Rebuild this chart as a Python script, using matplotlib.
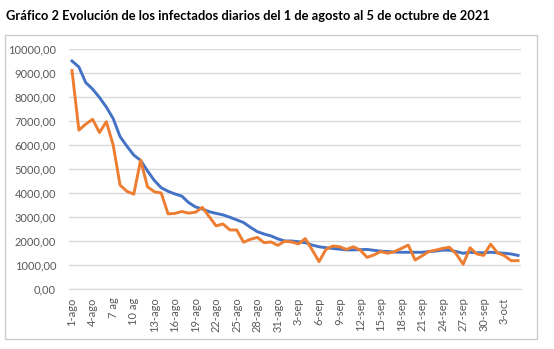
import matplotlib
matplotlib.use("Agg")
import matplotlib.pyplot as plt
from matplotlib.patches import Rectangle

# daily values, 1 Aug -> 5 Oct 2021 (66 days)
media_movil = [9500, 9250, 8600, 8330, 7980, 7580, 7100, 6350, 5950, 5580,
               5360, 4920, 4520, 4220, 4070, 3960, 3870, 3600, 3420, 3330,
               3220, 3150, 3090, 2990, 2880, 2770, 2570, 2390, 2290, 2210,
               2090, 2000, 2000, 1970, 1930, 1830, 1760, 1720, 1690, 1660,
               1630, 1630, 1640, 1650, 1610, 1580, 1560, 1540, 1530, 1530,
               1530, 1530, 1560, 1580, 1620, 1620, 1560, 1490, 1530, 1510,
               1510, 1530, 1510, 1490, 1460, 1400]
infectados = [9100, 6620, 6870, 7070, 6520, 6970, 6000, 4330, 4070, 3950,
              5370, 4260, 4050, 4000, 3130, 3150, 3230, 3160, 3200, 3400,
              3010, 2630, 2710, 2460, 2460, 1950, 2070, 2150, 1930, 1960,
              1820, 1990, 1960, 1880, 2100, 1630, 1140, 1650, 1790, 1760,
              1650, 1760, 1620, 1320, 1420, 1560, 1490, 1560, 1690, 1830,
              1210, 1380, 1560, 1620, 1690, 1740, 1460, 1030, 1720, 1460,
              1400, 1870, 1510, 1390, 1180, 1180]
tick_labels = ["1-ago", "4-ago", "7 ag", "10 ag", "13-ago", "16-ago", "19-ago",
               "22-ago", "25-ago", "28-ago", "31-ago", "3-sep", "6-sep", "9-sep",
               "12-sep", "15-sep", "18-sep", "21-sep", "24-sep", "27-sep",
               "30-sep", "3-oct"]
y_ticks = [0, 1000, 2000, 3000, 4000, 5000, 6000, 7000, 8000, 9000, 10000]

plt.rcParams['font.family'] = ['Lato', 'DejaVu Sans']

fig = plt.figure(figsize=(5.54, 3.49), dpi=100)
# light chart frame
frame = Rectangle((0.009, 0.029), 0.960, 0.871, transform=fig.transFigure,
                  fill=False, edgecolor='#cccccc', linewidth=1, zorder=0)
fig.add_artist(frame)
fig.text(0.011, 1 - 16 / 349, "Gráfico 2 Evolución de los infectados diarios del 1 de agosto al 5 de octubre de 2021",
         fontsize=9.3, fontweight='bold', va='center', ha='left', color='black')

ax = fig.add_axes([0.1238, 0.1719, 0.9413 - 0.1238, 0.8596 - 0.1719])
ax.patch.set_alpha(0)
x = list(range(len(media_movil)))
ax.plot(x, media_movil, color='#4472c4', linewidth=2.1, solid_joinstyle='round')
ax.plot(x, infectados, color='#ed7d31', linewidth=2.1, solid_joinstyle='round')

ax.set_xlim(-0.5, len(x) - 0.5)
ax.set_ylim(0, 10000)
ax.set_yticks(y_ticks)
ax.set_yticklabels(["%d,00" % v for v in y_ticks])
ax.set_xticks(list(range(0, len(x), 3)))
ax.set_xticklabels(tick_labels, rotation=90)
ax.grid(axis='y', color='#d9d9d9', linewidth=1)
ax.set_axisbelow(True)
for s in ['top', 'right', 'left']:
    ax.spines[s].set_visible(False)
ax.spines['bottom'].set_color('#d9d9d9')
ax.tick_params(axis='both', length=0, labelsize=8, colors='#595959')
ax.tick_params(axis='y', pad=9)
ax.tick_params(axis='x', pad=6)

fig.savefig("out.png", dpi=100)
